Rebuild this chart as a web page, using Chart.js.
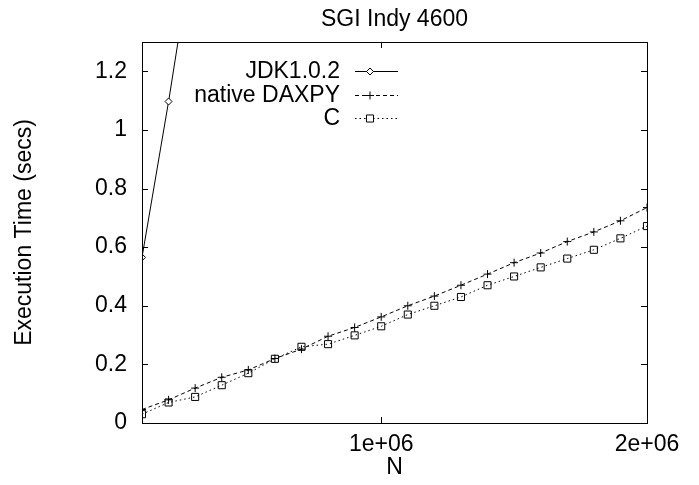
<!DOCTYPE html>
<html>
<head>
<meta charset="utf-8">
<script src="https://cdn.jsdelivr.net/npm/chart.js@4/dist/chart.umd.min.js"></script>
<style>
  html, body { margin: 0; padding: 0; background: #fff; }
  #wrap { width: 699px; height: 485px; }
</style>
</head>
<body>
<div id="wrap"><canvas id="c" width="699" height="485"></canvas></div>
<script>
/* ── DATA ── */
const sizesN = [1e5, 2e5, 3e5, 4e5, 5e5, 6e5, 7e5, 8e5, 9e5, 1e6,
                1.1e6, 1.2e6, 1.3e6, 1.4e6, 1.5e6, 1.6e6, 1.7e6, 1.8e6, 1.9e6, 2e6];
const jdkTimes = [0.565, 1.097, 1.67];
const daxpyTimes = [0.046, 0.079, 0.119, 0.156, 0.181, 0.220, 0.252, 0.296, 0.326, 0.362,
                    0.400, 0.433, 0.470, 0.508, 0.547, 0.580, 0.619, 0.652, 0.690, 0.735];
const cTimes = [0.030, 0.070, 0.089, 0.129, 0.170, 0.219, 0.260, 0.269, 0.299, 0.330,
                0.370, 0.400, 0.430, 0.470, 0.500, 0.531, 0.561, 0.591, 0.630, 0.672];
const xTicks = [1e6, 2e6];
const xTickLabels = ['1e+06', '2e+06'];
const yTicks = [0, 0.2, 0.4, 0.6, 0.8, 1, 1.2];
const yTickLabels = ['0', '0.2', '0.4', '0.6', '0.8', '1', '1.2'];
const chartTitle = 'SGI Indy 4600';

const FONT = { family: "'Liberation Sans', Arial, sans-serif", size: 23 };
const FONT_CSS = FONT.size + 'px ' + FONT.family;

const toPoints = vals => vals.map((v, i) => ({ x: sizesN[i], y: v }));

/* ── gnuplot-style frame with inward ticks, title over the plot ── */
const framePlugin = {
  id: 'frame',
  afterDatasetsDraw(chart) {
    const { ctx, chartArea: a, scales: { x, y } } = chart;
    ctx.save();
    ctx.strokeStyle = '#000';
    ctx.lineWidth = 1;
    ctx.strokeRect(a.left + 0.5, a.top + 0.5, a.right - a.left, a.bottom - a.top);
    ctx.beginPath();
    const len = 6;
    xTicks.forEach(v => {
      const px = Math.round(x.getPixelForValue(v)) + 0.5;
      ctx.moveTo(px, a.bottom); ctx.lineTo(px, a.bottom - len);
      ctx.moveTo(px, a.top); ctx.lineTo(px, a.top + len);
    });
    yTicks.forEach(v => {
      const py = Math.round(y.getPixelForValue(v)) + 0.5;
      ctx.moveTo(a.left, py); ctx.lineTo(a.left + len, py);
      ctx.moveTo(a.right, py); ctx.lineTo(a.right - len, py);
    });
    ctx.stroke();

    ctx.fillStyle = '#000';
    ctx.font = FONT_CSS;
    ctx.textAlign = 'center';
    ctx.textBaseline = 'middle';
    ctx.fillText(chartTitle, (a.left + a.right) / 2, 20);
    ctx.restore();
  }
};

/* ── legend: right-aligned text, sample to the right ── */
const keyPlugin = {
  id: 'key',
  afterDraw(chart) {
    const { ctx } = chart;
    const textRight = 340, lineL = 355, lineR = 398, markX = 370;
    const rowY = [71, 95, 118];
    ctx.save();
    ctx.font = FONT_CSS;
    ctx.textAlign = 'right';
    ctx.textBaseline = 'middle';
    chart.data.datasets.forEach((ds, i) => {
      const yy = rowY[i];
      ctx.fillStyle = '#000';
      ctx.fillText(ds.label, textRight, yy + 1);
      ctx.strokeStyle = '#000';
      ctx.lineWidth = 1;
      ctx.setLineDash(ds.borderDash || []);
      ctx.beginPath();
      ctx.moveTo(lineL, yy + 0.5); ctx.lineTo(lineR, yy + 0.5);
      ctx.stroke();
      ctx.setLineDash([]);
      ctx.fillStyle = '#fff';
      Chart.helpers.drawPoint(ctx, {
        pointStyle: ds.pointStyle, radius: ds.pointRadius, rotation: 0, borderWidth: 1
      }, markX, yy + 0.5);
    });
    ctx.restore();
  }
};

const common = {
  borderColor: '#000', backgroundColor: 'rgba(0,0,0,0)',
  pointBorderColor: '#000', pointBackgroundColor: '#fff',
  borderWidth: 1, pointBorderWidth: 1, tension: 0, fill: false
};

new Chart(document.getElementById('c'), {
  type: 'line',
  data: {
    datasets: [
      { ...common, label: 'JDK1.0.2', data: toPoints(jdkTimes), pointStyle: 'rectRot', pointRadius: 3.5 },
      { ...common, label: 'native DAXPY', data: toPoints(daxpyTimes), pointStyle: 'cross', pointRadius: 4, borderDash: [4, 3] },
      { ...common, label: 'C', data: toPoints(cTimes), pointStyle: 'rect', pointRadius: 5, borderDash: [1.5, 3], pointBackgroundColor: 'rgba(0,0,0,0)' }
    ]
  },
  options: {
    responsive: false, animation: false, maintainAspectRatio: false,
    layout: { padding: { left: 0, right: 52, top: 42, bottom: 0 } },
    plugins: {
      legend: { display: false },
      tooltip: { enabled: false },
      title: { display: false }
    },
    scales: {
      x: {
        type: 'linear', min: 1e5, max: 2e6,
        grid: { display: false, drawTicks: false }, border: { display: false },
        afterBuildTicks: s => { s.ticks = xTicks.map(v => ({ value: v })); },
        afterFit: s => { s.height = 62; },
        ticks: {
          color: '#000', font: FONT, padding: 8, maxRotation: 0, autoSkip: false,
          callback: v => xTickLabels[xTicks.indexOf(v)]
        },
        title: { display: true, text: 'N', color: '#000', font: FONT, padding: { top: 0, bottom: 4 } }
      },
      y: {
        min: 0, max: 1.3,
        grid: { display: false, drawTicks: false }, border: { display: false },
        afterBuildTicks: s => { s.ticks = yTicks.map(v => ({ value: v })); },
        afterFit: s => { s.width = 142; },
        ticks: {
          color: '#000', font: FONT, padding: 15, autoSkip: false,
          callback: v => yTickLabels[yTicks.indexOf(v)]
        },
        title: { display: true, text: 'Execution Time (secs)', color: '#000', font: FONT, padding: { top: 11, bottom: 0 } }
      }
    }
  },
  plugins: [framePlugin, keyPlugin]
});
</script>
</body>
</html>
